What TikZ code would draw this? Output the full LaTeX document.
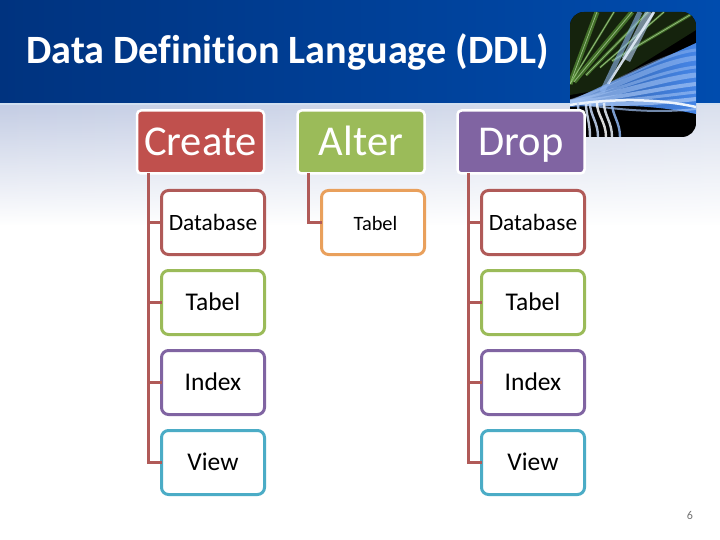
\documentclass[tikz,border=0pt]{standalone}
\usepackage{fontspec}
\setmainfont[Ligatures=NoCommon]{Carlito}
\usetikzlibrary{positioning,fadings}
\definecolor{cRed}{HTML}{C0504D}
\definecolor{cLink}{HTML}{B05A58}
\definecolor{cGreen}{HTML}{9BBB59}
\definecolor{cPurple}{HTML}{8064A2}
\definecolor{cCyan}{HTML}{4BACC6}
\definecolor{cOrange}{HTML}{E9A05C}
\definecolor{cNavy}{HTML}{00337F}
\definecolor{cBlue}{HTML}{004CAE}
\definecolor{cRay}{HTML}{4585E6}
\definecolor{cLeaf}{HTML}{5FA03A}
\definecolor{cBodyL}{HTML}{C4CDE4}
\definecolor{cBodyM}{HTML}{A9B5D5}
\definecolor{cBodyR}{HTML}{DAE0EE}
\tikzfading[name=fade body, top color=transparent!0, bottom color=transparent!100]
\begin{document}
\begin{tikzpicture}[
    x=1pt, y=-1pt,
    head box/.style={rounded corners=4pt, draw=white, line width=2.5pt, outer sep=0pt,
        minimum width=127pt, minimum height=63pt, inner sep=0pt, text=white,
        text height=31pt, text depth=4pt,
        font=\fontsize{42.5}{43}\selectfont},
    leaf box/.style={rounded corners=7pt, draw=#1, fill=white, line width=3pt, outer sep=0pt,
        minimum width=103pt, minimum height=64pt, inner sep=0pt, text=black,
        text height=18pt, text depth=3pt,
        font=\fontsize{25.5}{26}\selectfont},
    link/.style={draw=cLink, line width=3pt},
    node distance=16pt
]
\useasboundingbox (0,0) rectangle (720,540);
% background
\fill[white] (0,0) rectangle (720,540);
\shade[left color=cBodyL, middle color=cBodyM, right color=cBodyR, path fading=fade body] (0,105) rectangle (720,225);
\shade[shading angle=115, left color=cNavy, right color=cBlue] (0,0) rectangle (720,103);
\fill[white!82!cBlue] (0,103) rectangle (720,105.5);
% picture in the corner
\begin{scope}
\clip[rounded corners=14pt] (570,12) rectangle (696,137);
\fill[black] (570,12) rectangle (696,137);
\fill[cLeaf!22!black] (570,12) -- (696,12) -- (696,30) -- (600,90) -- (570,95) -- cycle;
\foreach \a/\b/\w in {570/597/5, 570/614/2, 574/632/5, 586/648/3, 600/664/2, 612/695/3}
  {\draw[cLeaf, opacity=.6, line width=\w pt] (\a,{84-(\a-570)*0.55}) -- (\b,12);
   \draw[cLeaf!55!white, opacity=.8, line width=.8pt] (\a,{84-(\a-570)*0.55}) -- (\b,12);}
\shade[left color=cRay!70!black, right color=cRay] (570,101) -- (696,43) -- (696,114) .. controls (660,106) and (620,104) .. (570,107) -- cycle;
\foreach \y/\w/\o in {50/3/.4, 58/5/.5, 67/3/.5, 75/5/.6, 84/4/.7, 92/3/.6, 99/4/.8, 109/2/.7}
  \draw[white!50!cRay, opacity=\o, line width=\w pt] (570,102) .. controls (620,{(101+\y)/2+6}) and (660,{\y+4}) .. (696,\y);
\draw[white!90!cRay, line width=2.5pt] (570,105) .. controls (620,97) and (665,100) .. (696,107);
\draw[white!60!cRay, opacity=.6, line width=9pt] (650,12) -- (626,60);
\draw[white!85!cRay, opacity=.9, line width=2.5pt] (654,12) -- (608,84);
\draw[cRay!60!white, opacity=.6, line width=5pt] (640,12) -- (602,92);
\foreach \a/\b/\c in {582/578/60, 590/586/80, 598/590/70, 606/597/100, 612/604/90, 620/612/40}
  \draw[white!\c!cRay, opacity=.85, line width=2.4pt] (\a,137) .. controls (\a,122) and (\b,115) .. (\b,103);
\end{scope}
% title
\node[text=white, font=\fontsize{40.2}{41}\selectfont\bfseries, inner sep=0pt, anchor=base west] (Title) at (26,63.5) {Data Definition Language (DDL)};
\node[text=black!55, font=\fontsize{12}{12}\selectfont, inner sep=0pt] (Page) at (690,515) {6};
% heads
\node[head box, fill=cRed] (Create) at (200.5,142) {Create};
\node[head box, fill=cGreen] (Alter) at (361,142) {Alter};
\node[head box, fill=cPurple] (Drop) at (521,142) {Drop};
% leaves
\node[leaf box=cLink, font=\fontsize{23.4}{24}\selectfont] (CreateDb) at (213,222.5) {Database};
\node[leaf box=cGreen, below=of CreateDb] (CreateTb) {Tabel};
\node[leaf box=cPurple, below=of CreateTb] (CreateIx) {Index};
\node[leaf box=cCyan, below=of CreateIx] (CreateVw) {View};
\node[leaf box=cOrange, font=\fontsize{20.4}{21}\selectfont] (AlterTb) at (373,222.5) {\hspace*{5pt}Tabel};
\node[leaf box=cLink, font=\fontsize{23.4}{24}\selectfont] (DropDb) at (533,222.5) {Database};
\node[leaf box=cGreen, below=of DropDb] (DropTb) {Tabel};
\node[leaf box=cPurple, below=of DropTb] (DropIx) {Index};
\node[leaf box=cCyan, below=of DropIx] (DropVw) {View};
% links
\foreach \leaf in {CreateDb,CreateTb,CreateIx,CreateVw}
  \draw[link] ([xshift=11pt]Create.south west) |- (\leaf);
\draw[link] ([xshift=11pt]Alter.south west) |- (AlterTb);
\foreach \leaf in {DropDb,DropTb,DropIx,DropVw}
  \draw[link] ([xshift=11pt]Drop.south west) |- (\leaf);
\end{tikzpicture}
\end{document}
